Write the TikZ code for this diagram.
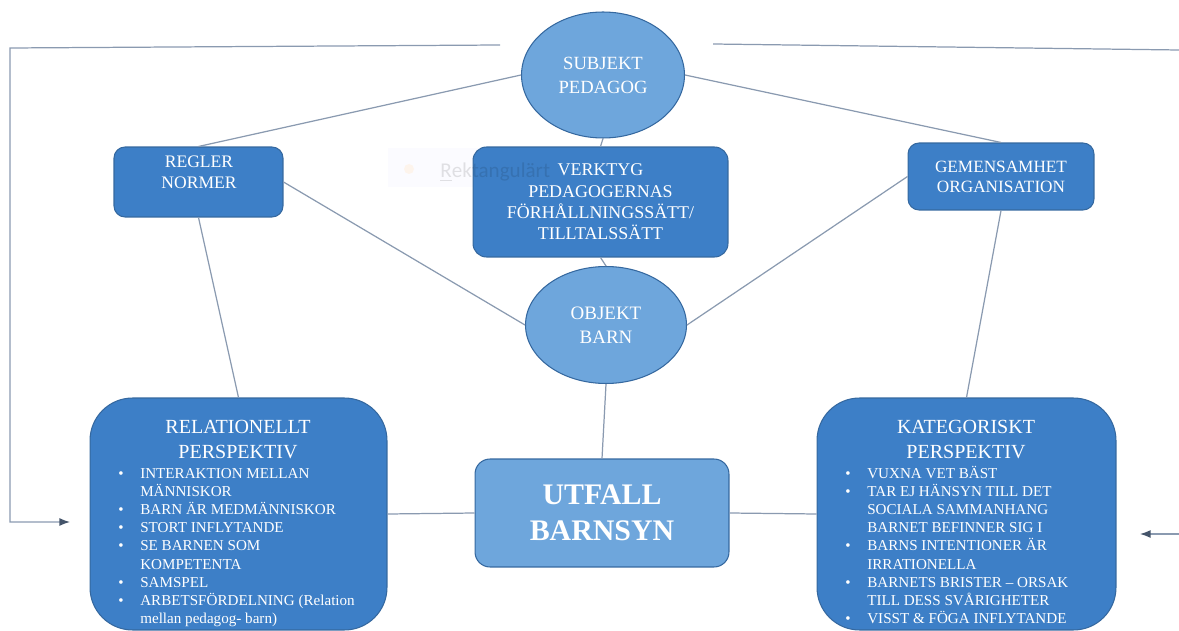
\documentclass[tikz,border=0pt]{standalone}
\usepackage{fontspec}
\setmainfont{Liberation Serif}
\newfontfamily\tipfont{Carlito}
\usetikzlibrary{shapes.geometric,arrows.meta}

\definecolor{darkblue}{HTML}{3D7FC7}
\definecolor{lightblue}{HTML}{6EA6DC}
\definecolor{boxedge}{HTML}{35689F}
\definecolor{linegray}{HTML}{8A9AB0}
\definecolor{arrowgray}{HTML}{44546A}

\begin{document}
\begin{tikzpicture}[x=0.02cm,y=-0.02cm,
    box/.style={shape=rectangle,rounded corners=0.22cm,draw=boxedge,fill=darkblue,line width=0.6pt,text=white,align=center,inner sep=0pt},
    oval/.style={shape=ellipse,draw=boxedge,fill=lightblue,line width=0.6pt,text=white,align=center,inner sep=0pt},
    boxtext/.style={text=white,align=center,inner sep=0pt},
    link/.style={draw=linegray,line width=0.7pt},
    loopback/.style={draw=linegray,line width=0.7pt,-{Latex[length=6pt,width=4.5pt,color=arrowgray]}}]
      \useasboundingbox (0,0) rectangle (1179,631);

      % faint tooltip (behind)
      \node[shape=rectangle,fill=blue!3,fill opacity=0.5,minimum width=6.14cm,minimum height=0.78cm,inner sep=0pt](tip) at (541,167.5) {};
      \node[shape=circle,fill=orange!12,fill opacity=0.6,minimum size=0.2cm,inner sep=0pt](tipDot) at (409,169) {};

      \node[oval,minimum width=3.26cm,minimum height=2.52cm,font=\fontsize{10.6}{13.6}\selectfont](subj) at (603,75) {SUBJEKT\\PEDAGOG};
      \node[box,minimum width=3.38cm,minimum height=1.4cm](regler) at (198.5,182) {};
      \node[boxtext,font=\fontsize{10}{11.9}\selectfont](reglerT) at (199,172.5) {REGLER\\NORMER};
      \node[box,rounded corners=0.27cm,minimum width=5.1cm,minimum height=2.2cm,font=\fontsize{10.2}{12.1}\selectfont](verk) at (600.5,202) {VERKTYG\\PEDAGOGERNAS\\FÖRHÅLLNINGSSÄTT/\\TILLTALSSÄTT};
      \node[box,minimum width=3.72cm,minimum height=1.34cm,font=\fontsize{9.8}{11.3}\selectfont](gem) at (1001,176.5) {GEMENSAMHET\\ORGANISATION};
      \node[oval,minimum width=3.22cm,minimum height=2.34cm,font=\fontsize{10.8}{13.6}\selectfont](obj) at (606,325) {OBJEKT\\BARN};
      \node[box,fill=lightblue,rounded corners=0.3cm,minimum width=5.08cm,minimum height=2.16cm,font=\fontsize{17}{20.4}\selectfont\bfseries](utf) at (602,513) {UTFALL\\BARNSYN};

      % perspektiv boxes
      \node[box,rounded corners=0.85cm,minimum width=5.94cm,minimum height=4.64cm](rel) at (238.5,514) {};
      \node[boxtext,font=\fontsize{11.4}{14.2}\selectfont](relT) at (238,439.5) {RELATIONELLT\\PERSPEKTIV};
      \node[boxtext,anchor=north west,font=\fontsize{8.6}{10.35}\selectfont](relL) at (118,465) {%
        \begin{tabular}{@{}p{12.5pt}@{}l@{}}
        \textbullet & INTERAKTION MELLAN\\
                    & MÄNNISKOR\\
        \textbullet & BARN ÄR MEDMÄNNISKOR\\
        \textbullet & STORT INFLYTANDE\\
        \textbullet & SE BARNEN SOM\\
                    & KOMPETENTA\\
        \textbullet & SAMSPEL\\
        \textbullet & ARBETSFÖRDELNING (Relation\\
                    & mellan pedagog- barn)
        \end{tabular}};
      \node[box,rounded corners=0.85cm,minimum width=5.98cm,minimum height=4.64cm](kat) at (966.5,514) {};
      \node[boxtext,font=\fontsize{11.4}{14.2}\selectfont](katT) at (966,439.5) {KATEGORISKT\\PERSPEKTIV};
      \node[boxtext,anchor=north west,font=\fontsize{8.6}{10.35}\selectfont](katL) at (845,465) {%
        \begin{tabular}{@{}p{12.5pt}@{}l@{}}
        \textbullet & VUXNA VET BÄST\\
        \textbullet & TAR EJ HÄNSYN TILL DET\\
                    & SOCIALA SAMMANHANG\\
                    & BARNET BEFINNER SIG I\\
        \textbullet & BARNS INTENTIONER ÄR\\
                    & IRRATIONELLA\\
        \textbullet & BARNETS BRISTER -- ORSAK\\
                    & TILL DESS SVÅRIGHETER\\
        \textbullet & VISST \& FÖGA INFLYTANDE
        \end{tabular}};

      % tooltip text (over the box, almost invisible)
      \node[anchor=base west,inner sep=0pt,text opacity=0.11,font=\tipfont\fontsize{12}{14}\selectfont](tipT) at (440,177.5) {\underline{R}ektangulärt};

      \path[link] (subj.west) edge (regler.north);
      \path[link] (subj.east) edge (gem.north);
      \path[link] (subj.south) edge (verk.north);
      \path[link] (verk.south) edge (obj.north);
      \path[link] (regler.east) edge (obj.west);
      \path[link] (gem.west) edge (obj.east);
      \path[link] (regler.south) edge (rel.north);
      \path[link] (gem.south) edge (kat.north);
      \path[link] (obj.south) edge (utf.north);
      \path[link] (utf.west) edge (rel.east);
      \path[link] (utf.east) edge (kat.west);

      % feedback loops
      \coordinate (fbStart) at (500,45);
      \coordinate (fbCorner) at (10,48);
      \coordinate (fbEnd) at (70,522);
      \coordinate (fbRight) at (713,44);
      \coordinate (fbEdge) at (1179,50);
      \coordinate (inStart) at (1179,534);
      \coordinate (inEnd) at (1140,534);
      \path[loopback] (fbStart) -- (fbCorner) |- (fbEnd);
      \path[link] (fbRight) -- (fbEdge);
      \path[loopback] (inStart) -- (inEnd);
    \end{tikzpicture}
\end{document}
